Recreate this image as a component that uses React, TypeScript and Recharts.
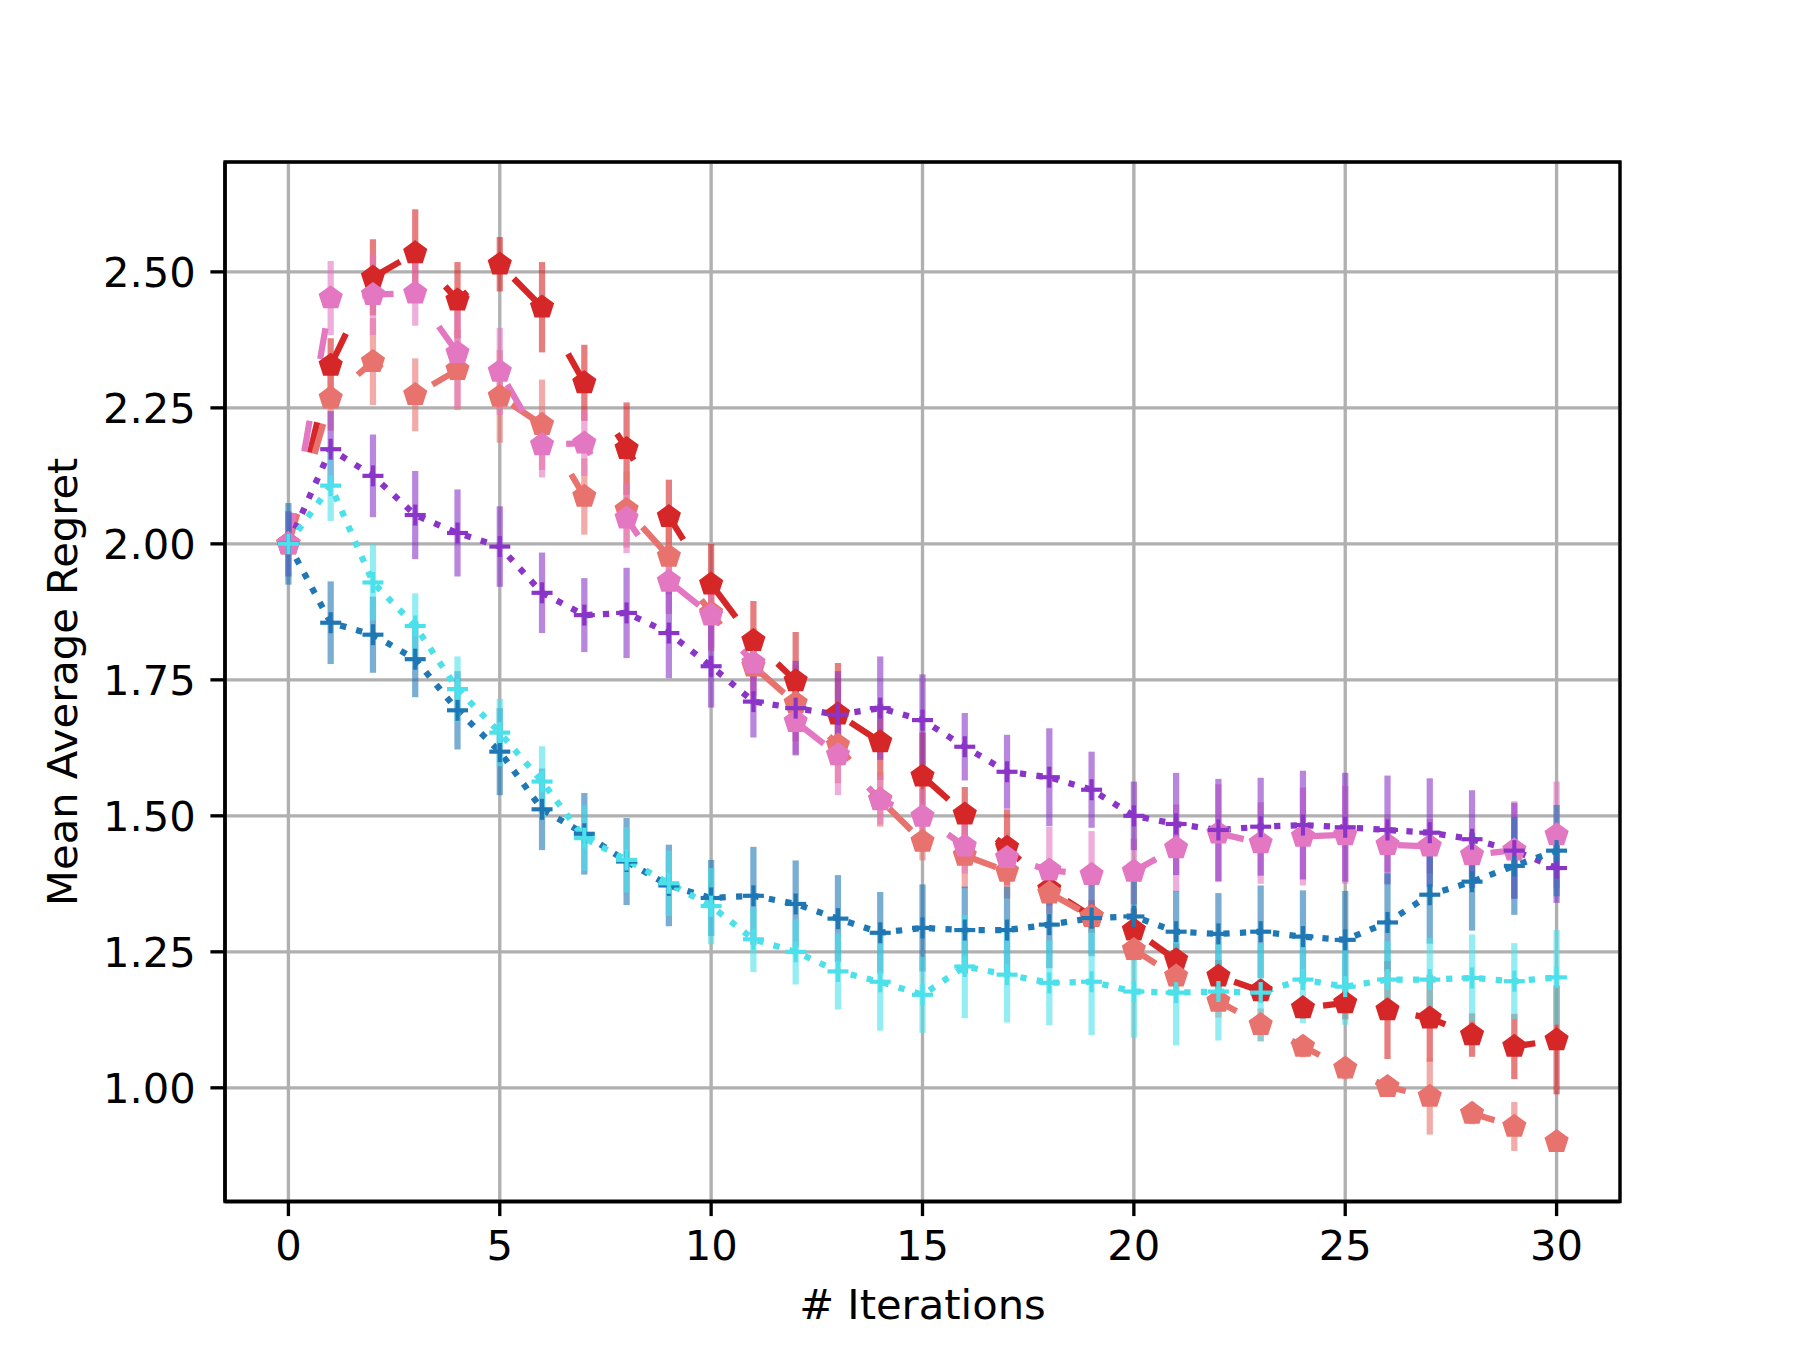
import React from "react"
import { LineChart, Line, XAxis, YAxis, CartesianGrid, ErrorBar, ReferenceArea } from "recharts"

// iterations 0..30
const iterations = [0, 1, 2, 3, 4, 5, 6, 7, 8, 9, 10, 11, 12, 13, 14, 15, 16, 17, 18, 19, 20, 21, 22, 23, 24, 25, 26, 27, 28, 29, 30]

const redMean = [2.0, 2.328, 2.49, 2.535, 2.448, 2.514, 2.435, 2.296, 2.175, 2.05, 1.926, 1.822, 1.748, 1.687, 1.636, 1.573, 1.503, 1.442, 1.365, 1.315, 1.29, 1.235, 1.205, 1.178, 1.147, 1.156, 1.143, 1.128, 1.097, 1.076, 1.088]
const redErr = [0, 0.05, 0.07, 0.08, 0.07, 0.05, 0.083, 0.07, 0.085, 0.068, 0.074, 0.073, 0.09, 0.094, 0.07, 0.08, 0.05, 0.07, 0.03, 0.03, 0.04, 0.03, 0.03, 0.02, 0.02, 0.03, 0.09, 0.08, 0.04, 0.06, 0.1]

const salmonMean = [2.0, 2.268, 2.335, 2.274, 2.32, 2.271, 2.219, 2.087, 2.063, 1.977, 1.873, 1.775, 1.707, 1.63, 1.53, 1.453, 1.427, 1.398, 1.358, 1.315, 1.254, 1.205, 1.159, 1.116, 1.076, 1.036, 1.002, 0.984, 0.953, 0.929, 0.901]
const salmonErr = [0, 0.06, 0.08, 0.067, 0.074, 0.085, 0.083, 0.07, 0.07, 0.07, 0.07, 0.07, 0.07, 0.07, 0.05, 0.035, 0.06, 0.05, 0.02, 0.02, 0.02, 0.03, 0.03, 0.03, 0.02, 0.02, 0.01, 0.07, 0.02, 0.045, 0.015]

const pinkMean = [2.0, 2.452, 2.458, 2.461, 2.351, 2.317, 2.182, 2.185, 2.047, 1.931, 1.869, 1.781, 1.673, 1.612, 1.529, 1.499, 1.444, 1.423, 1.4, 1.392, 1.398, 1.441, 1.468, 1.45, 1.462, 1.465, 1.447, 1.444, 1.428, 1.437, 1.465]
const pinkErr = [0, 0.068, 0.074, 0.06, 0.1, 0.08, 0.06, 0.06, 0.064, 0.06, 0.06, 0.06, 0.06, 0.074, 0.045, 0.05, 0.05, 0.04, 0.08, 0.08, 0.06, 0.08, 0.09, 0.075, 0.09, 0.09, 0.05, 0.05, 0.04, 0.09, 0.098]

const purpleMean = [2.0, 2.174, 2.125, 2.053, 2.02, 1.995, 1.91, 1.869, 1.873, 1.836, 1.775, 1.71, 1.698, 1.686, 1.698, 1.676, 1.627, 1.581, 1.571, 1.548, 1.5, 1.485, 1.474, 1.48, 1.483, 1.479, 1.474, 1.469, 1.457, 1.436, 1.404]
const purpleErr = [0.06, 0.07, 0.076, 0.081, 0.08, 0.074, 0.074, 0.068, 0.083, 0.083, 0.076, 0.066, 0.087, 0.08, 0.095, 0.084, 0.062, 0.068, 0.09, 0.07, 0.063, 0.094, 0.094, 0.09, 0.1, 0.1, 0.1, 0.1, 0.09, 0.088, 0.064]

const blueMean = [2.0, 1.855, 1.833, 1.788, 1.694, 1.618, 1.512, 1.467, 1.416, 1.372, 1.349, 1.353, 1.338, 1.311, 1.285, 1.294, 1.29, 1.29, 1.3, 1.312, 1.315, 1.287, 1.283, 1.287, 1.278, 1.272, 1.304, 1.355, 1.379, 1.408, 1.436]
const blueErr = [0.075, 0.076, 0.07, 0.07, 0.072, 0.08, 0.075, 0.075, 0.08, 0.075, 0.07, 0.09, 0.08, 0.08, 0.075, 0.08, 0.08, 0.08, 0.08, 0.07, 0.075, 0.075, 0.075, 0.085, 0.085, 0.09, 0.09, 0.09, 0.09, 0.09, 0.084]

const cyanMean = [2.0, 2.107, 1.929, 1.849, 1.733, 1.653, 1.563, 1.459, 1.419, 1.376, 1.334, 1.273, 1.25, 1.214, 1.195, 1.171, 1.223, 1.208, 1.193, 1.195, 1.177, 1.175, 1.177, 1.175, 1.199, 1.186, 1.199, 1.199, 1.202, 1.196, 1.203]
const cyanErr = [0, 0.065, 0.07, 0.06, 0.06, 0.062, 0.065, 0.06, 0.06, 0.06, 0.07, 0.06, 0.06, 0.07, 0.09, 0.07, 0.095, 0.088, 0.078, 0.098, 0.085, 0.097, 0.09, 0.09, 0.08, 0.07, 0.07, 0.077, 0.08, 0.07, 0.087]

const xTicks = [0, 5, 10, 15, 20, 25, 30]
const yTicks = [1.0, 1.25, 1.5, 1.75, 2.0, 2.25, 2.5]

const X_DOMAIN: [number, number] = [-1.5, 31.5]
const Y_DOMAIN: [number, number] = [0.791, 2.702]

const data = iterations.map((it, i) => ({
  it,
  red: redMean[i],
  redErr: redErr[i],
  salmon: salmonMean[i],
  salmonErr: salmonErr[i],
  pink: pinkMean[i],
  pinkErr: pinkErr[i],
  purple: purpleMean[i],
  purpleErr: purpleErr[i],
  blue: blueMean[i],
  blueErr: blueErr[i],
  cyan: cyanMean[i],
  cyanErr: cyanErr[i],
}))

// figure is 6x4.5in at 300 dpi, so 1pt = 300/72 px
const PT = 300 / 72
const FONT = "DejaVu Sans"
const FS = 10 * PT
const LW = 1.5 * PT
const DASHED = `${7.5 * PT} ${15 * PT}`
const DOTTED = `${1.5 * PT} ${2.475 * PT}`

const pentagonDot = (color: string) => (props: any) => {
  const { cx, cy, index } = props
  if (cx == null || cy == null) return <g key={`pe-${index}`} />
  const r = 11.2
  const pts = [0, 1, 2, 3, 4]
    .map((k) => {
      const a = -Math.PI / 2 + (k * 2 * Math.PI) / 5
      return `${cx + r * Math.cos(a)},${cy + r * Math.sin(a)}`
    })
    .join(" ")
  return <polygon key={`pe-${index}`} points={pts} fill={color} stroke={color} strokeWidth={2.5} />
}

const plusDot = (color: string) => (props: any) => {
  const { cx, cy, index } = props
  if (cx == null || cy == null) return <g key={`pl-${index}`} />
  const h = 10.5
  return (
    <g key={`pl-${index}`} stroke={color} strokeWidth={PT}>
      <line x1={cx - h} y1={cy} x2={cx + h} y2={cy} />
      <line x1={cx} y1={cy - h} x2={cx} y2={cy + h} />
    </g>
  )
}

const series = [
  { key: "red", color: "#d62728", dash: DASHED, dot: "pentagon" },
  { key: "salmon", color: "#e8736e", dash: DASHED, dot: "pentagon" },
  { key: "pink", color: "#e377c2", dash: DASHED, dot: "pentagon" },
  { key: "purple", color: "#8a35c8", dash: DOTTED, dot: "plus" },
  { key: "blue", color: "#1f77b4", dash: DOTTED, dot: "plus" },
  { key: "cyan", color: "#4ce1ea", dash: DOTTED, dot: "plus" },
]

export default function App() {
  return (
    <div style={{ position: "absolute", left: 0, top: 0, width: 1800, height: 1350, background: "#fff" }}>
      <LineChart
        width={1800}
        height={1350}
        data={data}
        margin={{ top: 162, right: 180, bottom: 0, left: 0 }}
        style={{ fontFamily: FONT }}
      >
        <CartesianGrid stroke="#b0b0b0" strokeWidth={0.8 * PT} />
        <XAxis
          dataKey="it"
          type="number"
          domain={X_DOMAIN}
          ticks={xTicks}
          allowDataOverflow
          height={148.5}
          tickSize={3.5 * PT}
          tickMargin={3.5 * PT}
          axisLine={{ stroke: "#000", strokeWidth: 0.8 * PT }}
          tickLine={{ stroke: "#000", strokeWidth: 0.8 * PT }}
          tick={{ fontSize: FS, fill: "#000", fontFamily: FONT }}
          label={{
            content: (p: any) => {
              const vb = p.viewBox
              return (
                <text x={vb.x + vb.width / 2} y={vb.y + 117} textAnchor="middle" fontSize={FS} fontFamily={FONT} fill="#000">
                  # Iterations
                </text>
              )
            },
          }}
        />
        <YAxis
          type="number"
          domain={Y_DOMAIN}
          ticks={yTicks}
          allowDataOverflow
          width={225}
          tickSize={3.5 * PT}
          tickMargin={3.5 * PT}
          tickFormatter={(v: number) => v.toFixed(2)}
          axisLine={{ stroke: "#000", strokeWidth: 0.8 * PT }}
          tickLine={{ stroke: "#000", strokeWidth: 0.8 * PT }}
          tick={{ fontSize: FS, fill: "#000", fontFamily: FONT }}
          label={{
            content: (p: any) => {
              const vb = p.viewBox
              const cy = vb.y + vb.height / 2
              return (
                <text x={77} y={cy} transform={`rotate(-90, 77, ${cy})`} textAnchor="middle" fontSize={FS} fontFamily={FONT} fill="#000">
                  Mean Average Regret
                </text>
              )
            },
          }}
        />
        {series.map((s) => (
          <Line
            key={s.key}
            type="linear"
            dataKey={s.key}
            stroke={s.color}
            strokeWidth={LW}
            strokeDasharray={s.dash}
            dot={s.dot === "pentagon" ? pentagonDot(s.color) : plusDot(s.color)}
            activeDot={false}
            isAnimationActive={false}
          >
            <ErrorBar dataKey={`${s.key}Err`} width={0} stroke={s.color} strokeWidth={LW} strokeOpacity={0.6} direction="y" />
          </Line>
        ))}
        <ReferenceArea x1={X_DOMAIN[0]} x2={X_DOMAIN[1]} y1={Y_DOMAIN[0]} y2={Y_DOMAIN[1]} fill="none" fillOpacity={0} stroke="#000" strokeWidth={0.8 * PT} />
      </LineChart>
    </div>
  )
}
